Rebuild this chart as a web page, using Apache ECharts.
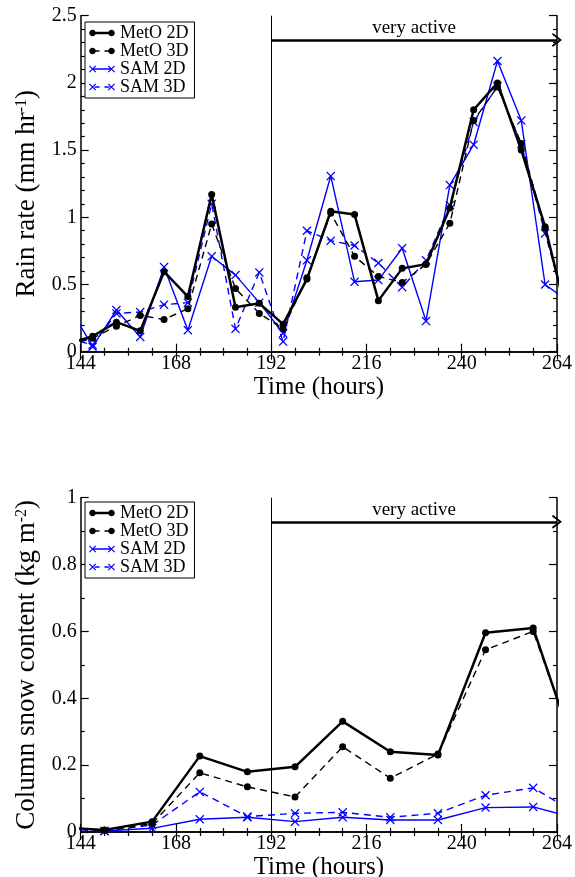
<!DOCTYPE html>
<html>
<head>
<meta charset="utf-8">
<script src="https://cdn.jsdelivr.net/npm/echarts@6/dist/echarts.min.js"></script>
<style>
    html, body { margin: 0; padding: 0; background: #fff; }
    #chart { width: 575px; height: 877px; }
</style>
</head>
<body>
<div id="chart"></div>
<script>
'use strict';

// 上图：降雨率 (6 小时一点，两端点落在坐标范围外，被裁掉)
var rainHours = [141, 147, 153, 159, 165, 171, 177, 183, 189, 195, 201, 207, 213, 219, 225, 231, 237, 243, 249, 255, 261, 267];
var rainMetO2D = [0.06, 0.115, 0.22, 0.155, 0.595, 0.41, 1.17, 0.33, 0.36, 0.205, 0.54, 1.045, 1.02, 0.38, 0.62, 0.65, 1.07, 1.80, 2.00, 1.50, 0.93, 0.21];
var rainMetO3D = [0.05, 0.10, 0.19, 0.27, 0.24, 0.32, 0.95, 0.47, 0.285, 0.17, 0.55, 1.03, 0.71, 0.56, 0.515, 0.65, 0.955, 1.72, 1.97, 1.55, 0.92, 0.22];
var rainSAM2D = [0.34, 0.037, 0.31, 0.11, 0.63, 0.16, 0.71, 0.57, 0.365, 0.137, 0.68, 1.307, 0.52, 0.533, 0.77, 0.228, 1.24, 1.54, 2.163, 1.72, 0.50, 0.37];
var rainSAM3D = [0.10, 0.05, 0.285, 0.295, 0.35, 0.365, 1.10, 0.17, 0.59, 0.075, 0.90, 0.826, 0.79, 0.66, 0.48, 0.68, 1.09, 1.71, 1.975, 1.545, 0.88, 0.25];

// 下图：柱雪含量 (12 小时一点)
var snowHours = [138, 150, 162, 174, 186, 198, 210, 222, 234, 246, 258, 270];
var snowMetO2D = [0.014, 0.006, 0.031, 0.227, 0.18, 0.195, 0.331, 0.24, 0.23, 0.596, 0.61, 0.19];
var snowMetO3D = [0.012, 0.005, 0.025, 0.177, 0.135, 0.105, 0.255, 0.161, 0.233, 0.545, 0.60, 0.20];
var snowSAM2D = [0.019, 0.003, 0.011, 0.038, 0.044, 0.031, 0.044, 0.036, 0.036, 0.073, 0.075, 0.037];
var snowSAM3D = [0.01, 0.003, 0.021, 0.12, 0.046, 0.056, 0.059, 0.044, 0.056, 0.11, 0.132, 0.048];

var seriesNames = ['MetO 2D', 'MetO 3D', 'SAM 2D', 'SAM 3D'];
var activeStart = 192;
var activeEnd = 264;
var rainArrowY = 2.32;
var snowArrowY = 0.928;

var FONT = 'Liberation Serif';
var BLUE = '#0000ff';
// 叉号标记
var CROSS = 'path://M0,1L1,0L5,4L9,0L10,1L6,5L10,9L9,10L5,6L1,10L0,9L4,5Z';
// 空心箭头 (朝上，markLine 会自动旋转)
var CHEVRON = 'path://M0,9L5,0L10,9L8.8,9.8L5,3L1.2,9.8Z';

// ---- 图例图标：两端各一个标记，中间实线或虚线 ----
function polyPath(pts) {
    // 统一成同一绕向，避免非零填充时互相抵消
    var area = 0;
    for (var i = 0; i < pts.length; i++) {
        var a = pts[i], b = pts[(i + 1) % pts.length];
        area += a[0] * b[1] - b[0] * a[1];
    }
    if (area < 0) pts = pts.slice().reverse();
    var s = '';
    for (var j = 0; j < pts.length; j++) {
        s += (j === 0 ? 'M' : 'L') + pts[j][0].toFixed(2) + ',' + pts[j][1].toFixed(2);
    }
    return s + 'Z';
}
function dot(cx, cy, r) {
    var pts = [];
    for (var i = 0; i < 16; i++) {
        var t = i / 16 * Math.PI * 2;
        pts.push([cx + r * Math.cos(t), cy + r * Math.sin(t)]);
    }
    return polyPath(pts);
}
function bar(x1, x2, cy, h) {
    return polyPath([[x1, cy - h / 2], [x2, cy - h / 2], [x2, cy + h / 2], [x1, cy + h / 2]]);
}
function cross(cx, cy, r, t) {
    var d = t / 2 * Math.SQRT1_2;
    var s1 = polyPath([[cx - r + d, cy - r - d], [cx + r + d, cy + r - d], [cx + r - d, cy + r + d], [cx - r - d, cy - r + d]]);
    var s2 = polyPath([[cx + r + d, cy - r + d], [cx - r + d, cy + r + d], [cx - r - d, cy + r - d], [cx + r - d, cy - r - d]]);
    return s1 + s2;
}
function legendIcon(kind, dashed) {
    var W = 26, H = 8, cy = H / 2, p = '';
    p += kind === 'dot' ? dot(3.5, cy, 3.3) + dot(W - 3.5, cy, 3.3) : cross(3.5, cy, 3.2, 1.2) + cross(W - 3.5, cy, 3.2, 1.2);
    var th = (kind === 'dot' && !dashed) ? 2.4 : 1.4;
    if (dashed) {
        p += bar(5.5, 10.5, cy, th) + bar(15.5, 20.5, cy, th);
    } else {
        p += bar(3.5, W - 3.5, cy, th);
    }
    // 用透明的外框把包围盒撑到 W x H
    return 'path://' + p + 'M0,0L0.01,0L0.01,0.01Z' + 'M' + W + ',' + H + 'L' + (W - 0.01) + ',' + H + 'L' + W + ',' + (H - 0.01) + 'Z';
}

function pairs(xs, ys) {
    var arr = [];
    for (var i = 0; i < xs.length; i++) {
        arr.push([xs[i], ys[i]]);
    }
    return arr;
}

function makeSeries(name, xs, ys, gridIdx) {
    var isMetO = name.indexOf('MetO') === 0;
    var dashed = name.indexOf('3D') > 0;
    var color = isMetO ? '#000' : BLUE;
    return {
        name: name,
        type: 'line',
        xAxisIndex: gridIdx * 2,
        yAxisIndex: gridIdx * 2,
        data: pairs(xs, ys),
        symbol: isMetO ? 'circle' : CROSS,
        symbolSize: isMetO ? 7 : 9,
        showAllSymbol: true,
        clip: true,
        z: isMetO ? 3 : 2,
        itemStyle: { color: color },
        lineStyle: {
            color: color,
            width: (isMetO && !dashed) ? 2.5 : 1.4,
            type: dashed ? [7, 5] : 'solid'
        },
        emphasis: { disabled: true },
        animation: false
    };
}

// 192 小时竖线 + "very active" 箭头
function activeMarks(gridIdx, yMax, arrowY) {
    return {
        name: 'marks',
        type: 'line',
        xAxisIndex: gridIdx * 2,
        yAxisIndex: gridIdx * 2,
        data: [],
        silent: true,
        animation: false,
        markLine: {
            silent: true,
            animation: false,
            symbol: ['none', 'none'],
            data: [
                [
                    { coord: [activeStart, 0], lineStyle: { color: '#000', width: 1, type: 'solid' }, label: { show: false } },
                    { coord: [activeStart, yMax] }
                ],
                [
                    {
                        coord: [activeStart, arrowY],
                        symbol: 'none',
                        lineStyle: { color: '#000', width: 2.5, type: 'solid' },
                        label: {
                            show: true,
                            position: 'insideMiddleTop',
                            formatter: 'very active',
                            color: '#000',
                            fontFamily: FONT,
                            fontSize: 19,
                            distance: 2
                        }
                    },
                    { coord: [activeEnd, arrowY], symbol: CHEVRON, symbolSize: [14, 10] }
                ]
            ]
        }
    };
}

function xAxes(gridIdx, name) {
    var common = {
        type: 'value',
        gridIndex: gridIdx,
        min: 144,
        max: 264,
        interval: 24,
        axisLine: { lineStyle: { color: '#000', width: 1.5 } },
        axisTick: { inside: true, length: 8, lineStyle: { color: '#000', width: 1.2 } },
        minorTick: { show: true, splitNumber: 4, length: 4, lineStyle: { color: '#000', width: 1.2 } },
        splitLine: { show: false }
    };
    var bottom = Object.assign({}, common, {
        position: 'bottom',
        name: name,
        nameLocation: 'middle',
        nameGap: 18,
        nameTextStyle: { color: '#000', fontFamily: FONT, fontSize: 25 },
        axisLabel: { color: '#000', fontFamily: FONT, fontSize: 20, margin: 2 }
    });
    var top = Object.assign({}, common, {
        position: 'top',
        axisLabel: { show: false }
    });
    return [bottom, top];
}

function yAxes(gridIdx, max, interval, minorSplit, name, pad) {
    var common = {
        type: 'value',
        gridIndex: gridIdx,
        min: 0,
        max: max,
        interval: interval,
        axisLine: { show: true, lineStyle: { color: '#000', width: 1.5 } },
        axisTick: { show: true, inside: true, length: 8, lineStyle: { color: '#000', width: 1.2 } },
        minorTick: { show: true, splitNumber: minorSplit, length: 4, lineStyle: { color: '#000', width: 1.2 } },
        splitLine: { show: false }
    };
    var left = Object.assign({}, common, {
        position: 'left',
        name: name,
        nameLocation: 'middle',
        nameGap: 36,
        nameTextStyle: {
            color: '#000',
            fontFamily: FONT,
            fontSize: 27,
            padding: pad,
            rich: {
                sup: { fontFamily: FONT, fontSize: 16, color: '#000', verticalAlign: 'top', padding: [0, 0, 12, 0] }
            }
        },
        axisLabel: { color: '#000', fontFamily: FONT, fontSize: 20, margin: 4 }
    });
    var right = Object.assign({}, common, {
        position: 'right',
        axisLabel: { show: false }
    });
    return [left, right];
}

function legendAt(top) {
    return {
        data: [
            { name: 'MetO 2D', icon: legendIcon('dot', false) },
            { name: 'MetO 3D', icon: legendIcon('dot', true) },
            { name: 'SAM 2D', icon: legendIcon('cross', false) },
            { name: 'SAM 3D', icon: legendIcon('cross', true) }
        ],
        orient: 'vertical',
        left: 85,
        top: top,
        padding: [2, 6, 2, 4],
        itemGap: 0,
        itemWidth: 26,
        itemHeight: 8,
        symbolKeepAspect: true,
        borderColor: '#000',
        borderWidth: 1,
        backgroundColor: '#fff',
        selectedMode: false,
        textStyle: { color: '#000', fontFamily: FONT, fontSize: 18, lineHeight: 17, padding: [0, 0, 0, 0] }
    };
}

var chart = echarts.init(document.getElementById('chart'), null, { renderer: 'canvas' });

var xa = xAxes(0, 'Time (hours)').concat(xAxes(1, 'Time (hours)'));
var ya = yAxes(0, 2.5, 0.5, 5, 'Rain rate (mm hr{sup|-1})', [0, 20, 0, 0])
    .concat(yAxes(1, 1, 0.2, 2, 'Column snow content (kg m{sup|-2})', [0, 0, 0, 0]));

var series = [
    makeSeries('MetO 2D', rainHours, rainMetO2D, 0),
    makeSeries('MetO 3D', rainHours, rainMetO3D, 0),
    makeSeries('SAM 2D', rainHours, rainSAM2D, 0),
    makeSeries('SAM 3D', rainHours, rainSAM3D, 0),
    makeSeries('MetO 2D', snowHours, snowMetO2D, 1),
    makeSeries('MetO 3D', snowHours, snowMetO3D, 1),
    makeSeries('SAM 2D', snowHours, snowSAM2D, 1),
    makeSeries('SAM 3D', snowHours, snowSAM3D, 1),
    activeMarks(0, 2.5, rainArrowY),
    activeMarks(1, 1, snowArrowY)
];

var option = {
    backgroundColor: '#fff',
    animation: false,
    grid: [
        { left: 80.7, top: 15.7, width: 476.3, height: 336, outerBoundsMode: 'none' },
        { left: 80.7, top: 497.7, width: 476.3, height: 334.3, outerBoundsMode: 'none' }
    ],
    legend: [legendAt(22), legendAt(502)],
    xAxis: xa,
    yAxis: ya,
    series: series
};
chart.setOption(option);
</script>
</body>
</html>
